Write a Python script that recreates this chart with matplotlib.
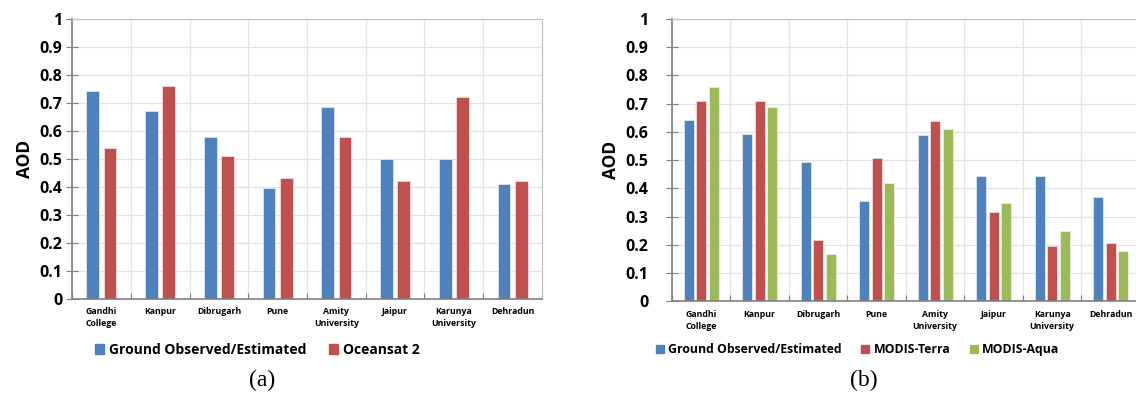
import numpy as np
import matplotlib
matplotlib.use("Agg")
import matplotlib.pyplot as plt
from matplotlib.patches import Patch

plt.rcParams['font.family'] = ['Open Sans', 'DejaVu Sans']

sites = ['Gandhi\nCollege', 'Kanpur', 'Dibrugarh', 'Pune', 'Amity\nUniversity',
         'Jaipur', 'Karunya\nUniversity', 'Dehradun']

# panel (a)
ground_a = [0.742, 0.67, 0.577, 0.398, 0.684, 0.499, 0.499, 0.412]
oceansat = [0.54, 0.76, 0.511, 0.431, 0.58, 0.42, 0.72, 0.42]

# panel (b)
ground_b = [0.644, 0.594, 0.492, 0.354, 0.59, 0.444, 0.444, 0.37]
modis_terra = [0.71, 0.71, 0.217, 0.508, 0.64, 0.318, 0.198, 0.208]
modis_aqua = [0.76, 0.69, 0.169, 0.419, 0.609, 0.348, 0.248, 0.177]

yticks = [0, 0.1, 0.2, 0.3, 0.4, 0.5, 0.6, 0.7, 0.8, 0.9, 1]
ytick_labels = ['0', '0.1', '0.2', '0.3', '0.4', '0.5', '0.6', '0.7', '0.8', '0.9', '1']

BLUE = '#4F81BD'
RED = '#C0504D'
GREEN = '#9BBB59'

fig = plt.figure(figsize=(11.36, 3.94), dpi=100)
ax_a = fig.add_axes([0.0634, 0.2411, 0.4137, 0.7107])
ax_b = fig.add_axes([0.5915, 0.2348, 0.4120, 0.7170])


def style_axis(ax, ylab_pad):
    n = len(sites)
    ax.set_xlim(0, n)
    ax.set_ylim(0, 1)
    ax.set_yticks(yticks)
    ax.set_yticklabels(ytick_labels, fontsize=11.5, fontweight='bold')
    # boundaries for grid, centres for labels
    ax.set_xticks(np.arange(0, n + 1))
    ax.set_xticklabels([])
    ax.set_xticks(np.arange(n) + 0.5, minor=True)
    ax.set_xticklabels(sites, minor=True, fontsize=6.3, fontweight='bold',
                       linespacing=1.45)
    ax.tick_params(axis='x', which='minor', length=0, pad=6)
    ax.tick_params(axis='x', which='major', direction='in', length=4,
                   color='#808080')
    ax.tick_params(axis='y', direction='inout', length=8, color='#808080',
                   pad=ylab_pad)
    ax.grid(True, which='major', color='#E3E3E3', linewidth=0.9)
    ax.set_axisbelow(True)
    for s in ['top', 'right']:
        ax.spines[s].set_color('#BFBFBF')
    for s in ['left', 'bottom']:
        ax.spines[s].set_color('#808080')
        ax.spines[s].set_linewidth(1.2)
    ax.set_ylabel('AOD', fontsize=12.5, fontweight='bold')


x = np.arange(len(sites)) + 0.5

# (a)
w_a = 0.22
ax_a.bar(x - 0.147, ground_a, w_a, color=BLUE, edgecolor='#DDE6F2', linewidth=0.6)
ax_a.bar(x + 0.147, oceansat, w_a, color=RED, edgecolor='#F2DCDB', linewidth=0.6)
style_axis(ax_a, 3)
ax_a.yaxis.labelpad = 4

# (b)
w_b = 0.17
ax_b.bar(x - 0.215, ground_b, w_b, color=BLUE, edgecolor='#DDE6F2', linewidth=0.6)
ax_b.bar(x, modis_terra, w_b, color=RED, edgecolor='#F2DCDB', linewidth=0.6)
ax_b.bar(x + 0.215, modis_aqua, w_b, color=GREEN, edgecolor='#EBF1DE', linewidth=0.6)
style_axis(ax_b, 13)
ax_b.yaxis.labelpad = 4

leg_a = fig.legend(handles=[Patch(color=BLUE, label='Ground Observed/Estimated'),
                            Patch(color=RED, label='Oceansat 2')],
                   loc='center', bbox_to_anchor=(0.2267, 0.112), ncol=2,
                   frameon=False, handlelength=0.65, handleheight=0.65,
                   handletextpad=0.35, columnspacing=1.6,
                   prop={'family': 'Open Sans', 'weight': 'bold', 'size': 10})

leg_b = fig.legend(handles=[Patch(color=BLUE, label='Ground Observed/Estimated'),
                            Patch(color=RED, label='MODIS-Terra'),
                            Patch(color=GREEN, label='MODIS-Aqua')],
                   loc='center', bbox_to_anchor=(0.755, 0.112), ncol=3,
                   frameon=False, handlelength=0.65, handleheight=0.65,
                   handletextpad=0.35, columnspacing=1.6,
                   prop={'family': 'Open Sans', 'weight': 'bold', 'size': 8.8})

fig.text(0.231, 0.035, '(a)', ha='center', va='center',
         family='Liberation Serif', fontsize=17)
fig.text(0.760, 0.035, '(b)', ha='center', va='center',
         family='Liberation Serif', fontsize=17)

fig.savefig('out.png', dpi=100)
